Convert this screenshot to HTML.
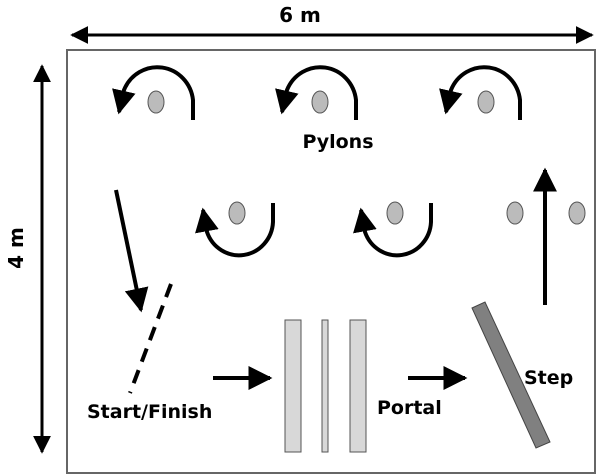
<!DOCTYPE html><html><head><style>body{margin:0;background:#fff}svg{display:block}</style></head><body>
<svg width="600" height="476" viewBox="0 0 600 476" xmlns="http://www.w3.org/2000/svg" font-family="'DejaVu Sans','Liberation Sans',sans-serif" font-weight="bold">
<defs><marker id="a" viewBox="0 0 10 10" refX="9" refY="5" markerWidth="6" markerHeight="6" orient="auto-start-reverse"><path d="M0,0L10,5L0,10z" fill="#000"/></marker></defs>
<rect x="67" y="50" width="528" height="423" fill="#fff" stroke="#666" stroke-width="2"/>
<line x1="72" y1="35" x2="592" y2="35" stroke="#000" stroke-width="3" marker-start="url(#a)" marker-end="url(#a)"/>
<text x="300" y="22" font-size="20" text-anchor="middle">6 m</text>
<line x1="42" y1="66" x2="42" y2="452" stroke="#000" stroke-width="3" marker-start="url(#a)" marker-end="url(#a)"/>
<text transform="translate(23,248) rotate(-90)" font-size="20" text-anchor="middle">4 m</text>
<g fill="#bbb" stroke="#555" stroke-width="1">
<ellipse cx="156" cy="102" rx="8" ry="11"/><ellipse cx="320" cy="102" rx="8" ry="11"/><ellipse cx="486" cy="102" rx="8" ry="11"/>
<ellipse cx="237" cy="213" rx="8" ry="11"/><ellipse cx="395" cy="213" rx="8" ry="11"/><ellipse cx="515" cy="213" rx="8" ry="11"/><ellipse cx="577" cy="213" rx="8" ry="11"/>
</g>
<g fill="none" stroke="#000" stroke-width="4" marker-end="url(#a)">
<path d="M193,120 L193,100 A36,37 0 0 0 124,90 L119,112"/>
<path d="M356,120 L356,100 A36,37 0 0 0 287,90 L282,112"/>
<path d="M520,120 L520,100 A36,37 0 0 0 451,90 L446,112"/>
<path d="M273,203 L273,222 A34,35 0 0 1 207,232 L203,210"/>
<path d="M431,203 L431,222 A34,35 0 0 1 365,232 L361,210"/>
<line x1="545" y1="305" x2="545" y2="170"/>
<line x1="116" y1="190" x2="141" y2="310"/>
<line x1="213" y1="378" x2="270" y2="378"/>
<line x1="408" y1="378" x2="465" y2="378"/>
</g>
<line x1="171" y1="284" x2="130" y2="393" stroke="#000" stroke-width="4" stroke-dasharray="14,9"/>
<g fill="#d8d8d8" stroke="#555">
<rect x="285" y="320" width="16" height="132"/><rect x="322" y="320" width="6" height="132"/><rect x="350" y="320" width="16" height="132"/>
</g>
<polygon points="472,308 485,302 550,442 536,448" fill="#808080" stroke="#444"/>
<text x="338" y="148" font-size="19" text-anchor="middle">Pylons</text>
<text x="87" y="418" font-size="19">Start/Finish</text>
<text x="377" y="414" font-size="19">Portal</text>
<text x="524" y="384" font-size="19">Step</text>
</svg></body></html>
